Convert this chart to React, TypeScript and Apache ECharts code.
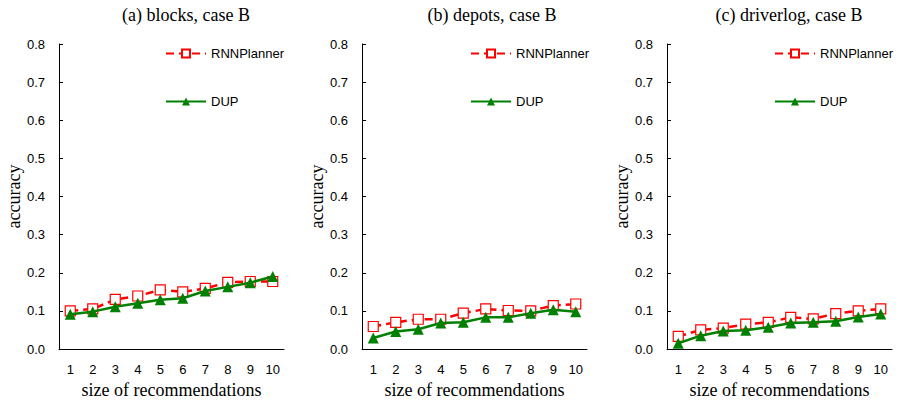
import React, { useEffect, useRef } from "react";
import * as echarts from "echarts";

const categories = ["1", "2", "3", "4", "5", "6", "7", "8", "9", "10"];
const titles = ["(a) blocks, case B", "(b) depots, case B", "(c) driverlog, case B"];
const rnnBlocks = [0.1, 0.105, 0.13, 0.139, 0.155, 0.15, 0.159, 0.175, 0.177, 0.177];
const dupBlocks = [0.091, 0.098, 0.111, 0.12, 0.129, 0.133, 0.152, 0.163, 0.174, 0.19];
const rnnDepots = [0.059, 0.07, 0.078, 0.078, 0.094, 0.105, 0.101, 0.1, 0.114, 0.118];
const dupDepots = [0.029, 0.046, 0.052, 0.068, 0.07, 0.083, 0.083, 0.094, 0.103, 0.098];
const rnnDriverlog = [0.033, 0.05, 0.055, 0.065, 0.07, 0.083, 0.079, 0.093, 0.1, 0.105];
const dupDriverlog = [0.015, 0.035, 0.047, 0.049, 0.057, 0.068, 0.07, 0.073, 0.084, 0.092];

const rnnSeries = [rnnBlocks, rnnDepots, rnnDriverlog];
const dupSeries = [dupBlocks, dupDepots, dupDriverlog];

const gridLefts = [59, 362, 667];
const gridWidth = 225;
const legendLefts = [160, 465, 769];
const titleCenters = [181, 487, 784];

export default function App() {
  const ref = useRef<HTMLDivElement>(null);
  useEffect(() => {
    document.body.style.margin = "0";
    if (!ref.current) return;
    const chart = echarts.init(ref.current, undefined, { renderer: "svg" });
    const serif = "Liberation Serif";
    const sans = "Liberation Sans";
    const grids = gridLefts.map((l) => ({ left: l, top: 44, width: gridWidth, bottom: 56 }));
    const xAxes = gridLefts.map((_, i) => ({
      type: "category",
      gridIndex: i,
      data: categories,
      boundaryGap: true,
      name: "size of recommendations",
      nameLocation: "middle",
      nameGap: 31,
      nameTextStyle: { fontFamily: serif, fontSize: 18, color: "#000" },
      axisLine: { lineStyle: { color: "#000", width: 1 } },
      axisTick: { alignWithLabel: true, inside: true, length: 4, lineStyle: { color: "#000" } },
      axisLabel: { fontFamily: sans, fontSize: 13, color: "#000", margin: 14 },
      splitLine: { show: false },
    }));
    const yAxes = gridLefts.map((_, i) => ({
      type: "value",
      gridIndex: i,
      min: 0,
      max: 0.8,
      interval: 0.1,
      name: "accuracy",
      nameLocation: "middle",
      nameRotate: 90,
      nameGap: 34,
      nameTextStyle: { fontFamily: serif, fontSize: 18, color: "#000" },
      axisLine: { show: true, lineStyle: { color: "#000", width: 1 } },
      axisTick: { show: true, inside: true, length: 4, lineStyle: { color: "#000" } },
      axisLabel: {
        fontFamily: sans,
        fontSize: 13,
        color: "#000",
        margin: 14,
        formatter: (v: number) => v.toFixed(1),
      },
      splitLine: { show: false },
    }));
    const series: any[] = [];
    for (let i = 0; i < 3; i++) {
      series.push({
        type: "line",
        name: "RNNPlanner",
        xAxisIndex: i,
        yAxisIndex: i,
        data: rnnSeries[i],
        symbol: "rect",
        symbolSize: 10,
        showAllSymbol: true,
        lineStyle: { color: "#FF0000", width: 2.5, type: [8, 5] },
        itemStyle: { color: "#fff", borderColor: "#FF0000", borderWidth: 1.2 },
        z: 2,
      });
      series.push({
        type: "line",
        name: "DUP",
        xAxisIndex: i,
        yAxisIndex: i,
        data: dupSeries[i],
        symbol: "triangle",
        symbolSize: 11,
        showAllSymbol: true,
        lineStyle: { color: "#008000", width: 2.5 },
        itemStyle: { color: "#008000" },
        z: 3,
      });
    }
    const legends = legendLefts.map((l) => ({
      left: l,
      top: 42,
      orient: "vertical",
      itemGap: 35,
      itemWidth: 40,
      itemHeight: 10,
      data: ["RNNPlanner", "DUP"],
      textStyle: { fontFamily: sans, fontSize: 13, color: "#000", padding: [0, 0, 0, 0] },
      selectedMode: false,
    }));
    const titleOpts = titles.map((t, i) => ({
      text: t,
      left: titleCenters[i],
      top: 1,
      textAlign: "center",
      textStyle: { fontFamily: serif, fontSize: 18, fontWeight: "normal", color: "#000" },
    }));
    chart.setOption({
      animation: false,
      backgroundColor: "#fff",
      title: titleOpts,
      grid: grids,
      xAxis: xAxes,
      yAxis: yAxes,
      legend: legends,
      series,
    });
    return () => chart.dispose();
  }, []);
  return <div ref={ref} style={{ width: 898, height: 405 }} />;
}
